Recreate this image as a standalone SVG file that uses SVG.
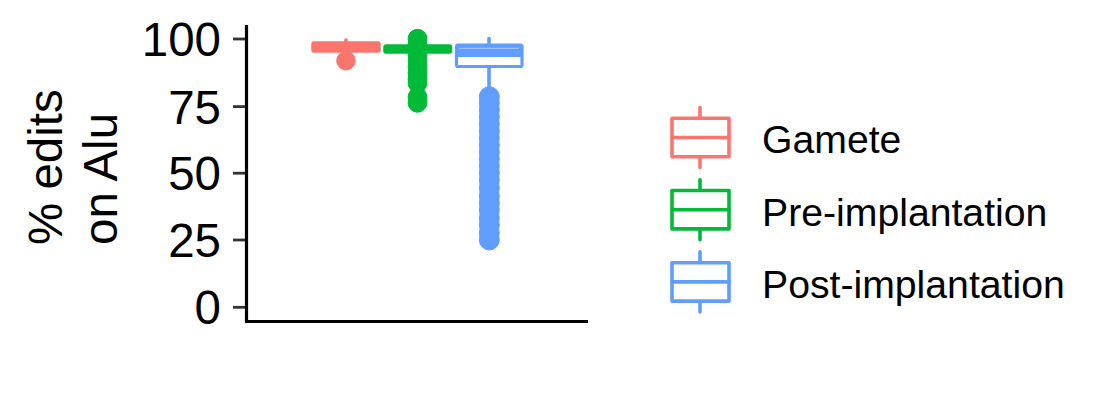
<svg xmlns="http://www.w3.org/2000/svg" width="1116" height="420" viewBox="0 0 1116 420">
<style>
  text { font-family: "Liberation Sans", Arial, sans-serif; fill: #000; }
  .tick { font-size: 47.5px; text-anchor: end; }
  .title { font-size: 47.5px; }
  .leg { font-size: 39.2px; }
  .tk { stroke: #333333; stroke-width: 2.8; }
  .axis { stroke: #000; stroke-width: 3.2; fill: none; }
  .red { stroke: #F8766D; fill: #F8766D; }
  .green { stroke: #00BA38; fill: #00BA38; }
  .blue { stroke: #619CFF; fill: #619CFF; }
  .keybox { fill: #fff; stroke-width: 3.6; stroke-linejoin: round; stroke-linecap: round; }
  .ln { stroke-width: 3.6; stroke-linecap: round; fill: none; }
</style>
<rect width="1116" height="420" fill="#fff"/>

<g id="y-axis">
  <line class="tk" x1="233" y1="39" x2="246" y2="39"/>
  <line class="tk" x1="233" y1="106.6" x2="246" y2="106.6"/>
  <line class="tk" x1="233" y1="173.2" x2="246" y2="173.2"/>
  <line class="tk" x1="233" y1="240" x2="246" y2="240"/>
  <line class="tk" x1="233" y1="307.3" x2="246" y2="307.3"/>
  <text class="tick" x="221" y="56">100</text>
  <text class="tick" x="221" y="123.5">75</text>
  <text class="tick" x="221" y="190.2">50</text>
  <text class="tick" x="221" y="257">25</text>
  <text class="tick" x="221" y="324.3">0</text>
  <polyline class="axis" points="246.5,25 246.5,321.5 588,321.5"/>
  <text class="title" transform="translate(62,245) rotate(-90)">% edits</text>
  <text class="title" transform="translate(117,245) rotate(-90)">on Alu</text>
</g>

<g id="gamete">
  <line class="ln red" x1="346" y1="40" x2="346" y2="44"/>
  <rect class="red" x="312" y="42" width="68" height="10" rx="2" stroke-width="1.5"/>
  <circle class="red" cx="346" cy="60.7" r="9.3" stroke="none"/>
</g>

<g id="pre-implantation">
  <g class="green" stroke="none">
    <circle cx="417.5" cy="38.7" r="9.4"/>
    <circle cx="417.5" cy="45" r="9.4"/>
    <circle cx="417.5" cy="55" r="9.4"/>
    <circle cx="417.5" cy="61" r="9.4"/>
    <circle cx="417.5" cy="67" r="9.4"/>
    <circle cx="417.5" cy="73" r="9.4"/>
    <circle cx="417.5" cy="79" r="9.4"/>
    <circle cx="417.5" cy="83" r="9.4"/>
    <circle cx="417.5" cy="97" r="9.4"/>
    <circle cx="417.5" cy="102.8" r="9.4"/>
  </g>
  <rect class="green" x="384" y="45" width="67.5" height="8" rx="2" stroke-width="1.5"/>
</g>

<g id="post-implantation">
  <line class="ln blue" x1="489" y1="38.5" x2="489" y2="45"/>
  <line class="ln blue" x1="489" y1="66" x2="489" y2="95"/>
  <rect x="456.5" y="45" width="65.5" height="21.5" rx="1.5" fill="#fff" stroke="#619CFF" stroke-width="3.2"/>
  <rect x="456.5" y="45" width="65.5" height="12" fill="#619CFF"/>
  <line x1="459" y1="48.3" x2="519" y2="48.3" stroke="#A9C8FF" stroke-width="1"/>
  <g class="blue" stroke="none">
    <circle cx="489.3" cy="96.7" r="10"/>
    <circle cx="489.3" cy="103" r="10"/>
    <circle cx="489.3" cy="110" r="10"/>
    <circle cx="489.3" cy="117" r="10"/>
    <circle cx="489.3" cy="124" r="10"/>
    <circle cx="489.3" cy="131" r="10"/>
    <circle cx="489.3" cy="138" r="10"/>
    <circle cx="489.3" cy="145" r="10"/>
    <circle cx="489.3" cy="152" r="10"/>
    <circle cx="489.3" cy="159" r="10"/>
    <circle cx="489.3" cy="166" r="10"/>
    <circle cx="489.3" cy="173" r="10"/>
    <circle cx="489.3" cy="180" r="10"/>
    <circle cx="489.3" cy="188" r="10"/>
    <circle cx="489.3" cy="196" r="10"/>
    <circle cx="489.3" cy="203" r="10"/>
    <circle cx="489.3" cy="210" r="10"/>
    <circle cx="489.3" cy="218" r="10"/>
    <circle cx="489.3" cy="225" r="10"/>
    <circle cx="489.3" cy="233" r="10"/>
    <circle cx="489.3" cy="240" r="10"/>
  </g>
</g>

<g id="legend">
  <g id="key-gamete">
    <line class="ln" stroke="#F8766D" x1="700" y1="107.5" x2="700" y2="118.3"/>
    <line class="ln" stroke="#F8766D" x1="700" y1="156.7" x2="700" y2="167.5"/>
    <rect class="keybox" stroke="#F8766D" x="672" y="118.3" width="57" height="38.4"/>
    <line class="ln" stroke="#F8766D" x1="672" y1="137.5" x2="729" y2="137.5"/>
    <text class="leg" x="762" y="153.3">Gamete</text>
  </g>
  <g id="key-pre">
    <line class="ln" stroke="#00BA38" x1="700" y1="179.7" x2="700" y2="190.5"/>
    <line class="ln" stroke="#00BA38" x1="700" y1="228.9" x2="700" y2="239.7"/>
    <rect class="keybox" stroke="#00BA38" x="672" y="190.5" width="57" height="38.4"/>
    <line class="ln" stroke="#00BA38" x1="672" y1="209.7" x2="729" y2="209.7"/>
    <text class="leg" x="762" y="225.5">Pre-implantation</text>
  </g>
  <g id="key-post">
    <line class="ln" stroke="#619CFF" x1="700" y1="251.9" x2="700" y2="262.7"/>
    <line class="ln" stroke="#619CFF" x1="700" y1="301.1" x2="700" y2="311.9"/>
    <rect class="keybox" stroke="#619CFF" x="672" y="262.7" width="57" height="38.4"/>
    <line class="ln" stroke="#619CFF" x1="672" y1="281.9" x2="729" y2="281.9"/>
    <text class="leg" x="762" y="297.7">Post-implantation</text>
  </g>
</g>
</svg>
